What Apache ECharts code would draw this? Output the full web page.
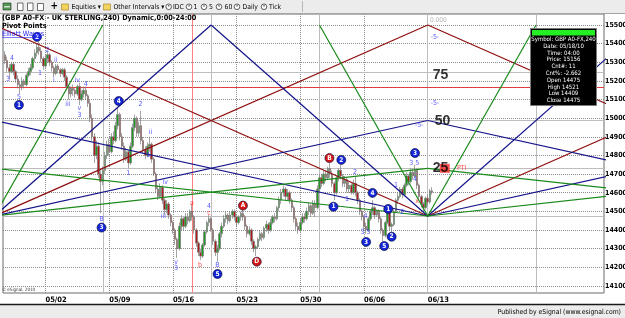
<!DOCTYPE html>
<html>
<head>
<meta charset="utf-8">
<script src="https://cdn.jsdelivr.net/npm/echarts@6/dist/echarts.min.js"></script>
<style>
html, body { margin: 0; padding: 0; background: #fff; }
#main { width: 625px; height: 318px; }
</style>
</head>
<body>
<div id="main"></div>
<script>
// 240 min bars, [open, close, low, high], bar index starts at 1
const candles = [
  [15340,15310,15290,15360],[15310,15270,15250,15330],[15270,15250,15210,15290],[15250,15290,15240,15300],
  [15290,15250,15230,15300],[15250,15210,15190,15260],[15210,15180,15160,15230],[15180,15170,15130,15200],
  [15170,15200,15150,15220],[15200,15180,15160,15210],[15180,15230,15170,15240],[15230,15250,15220,15270],
  [15250,15270,15230,15290],[15270,15320,15260,15330],[15320,15350,15300,15370],[15350,15380,15330,15400],
  [15380,15360,15340,15410],[15360,15320,15300,15380],[15320,15280,15260,15330],[15280,15320,15270,15340],
  [15320,15340,15300,15360],[15340,15300,15280,15350],[15300,15270,15250,15310],[15270,15240,15220,15280],
  [15240,15280,15230,15290],[15280,15260,15240,15290],[15260,15240,15220,15270],[15240,15260,15230,15270],
  [15260,15220,15200,15270],[15220,15170,15150,15230],[15170,15130,15100,15180],[15130,15160,15110,15170],
  [15160,15150,15120,15180],[15150,15130,15110,15160],[15130,15170,15120,15180],[15170,15100,15070,15190],
  [15100,15130,15090,15150],[15130,15150,15110,15170],[15150,15120,15100,15170],[15120,15080,15060,15130],
  [15080,15000,14980,15100],[15000,14900,14880,15020],[14900,14800,14760,14920],[14800,14850,14780,14880],
  [14850,14700,14680,14870],[14700,14660,14490,14720],[14660,14720,14640,14740],[14720,14800,14700,14820],
  [14800,14860,14780,14880],[14860,14820,14800,14890],[14820,14900,14810,14920],[14900,14880,14860,14930],
  [14880,14960,14870,14980],[14960,15020,14940,15055],[15020,14900,14880,15030],[14900,14850,14830,14920],
  [14850,14780,14760,14870],[14780,14820,14770,14840],[14820,14760,14730,14830],[14760,14850,14750,14870],
  [14850,14950,14840,14970],[14950,15000,14930,15020],[15000,14920,14900,15010],[14920,14960,14900,14980],
  [14960,14880,14860,15040],[14880,14830,14810,14900],[14830,14800,14780,14850],[14800,14850,14790,14870],
  [14850,14860,14820,14900],[14860,14780,14760,14870],[14780,14700,14690,14790],[14700,14620,14600,14710],
  [14620,14580,14560,14640],[14580,14630,14570,14650],[14630,14560,14540,14640],[14560,14510,14480,14570],
  [14510,14540,14490,14560],[14540,14480,14460,14550],[14480,14440,14420,14490],[14440,14400,14380,14450],
  [14400,14350,14320,14410],[14350,14300,14250,14360],[14300,14420,14290,14440],[14420,14460,14400,14480],
  [14460,14420,14400,14470],[14420,14470,14410,14490],[14470,14450,14430,14490],[14450,14500,14440,14510],
  [14500,14470,14450,14540],[14470,14400,14380,14480],[14400,14330,14310,14410],[14330,14280,14260,14340],
  [14280,14260,14240,14300],[14260,14320,14250,14330],[14320,14390,14310,14400],[14390,14440,14380,14450],
  [14440,14460,14420,14480],[14460,14400,14390,14470],[14400,14340,14320,14410],[14340,14280,14260,14350],
  [14280,14300,14230,14320],[14300,14380,14290,14390],[14380,14420,14360,14440],[14420,14460,14410,14480],
  [14460,14480,14440,14500],[14480,14450,14430,14490],[14450,14480,14440,14500],[14480,14500,14460,14510],
  [14500,14470,14450,14510],[14470,14440,14420,14480],[14440,14470,14430,14480],[14470,14490,14450,14500],
  [14490,14470,14450,14510],[14470,14420,14400,14480],[14420,14380,14360,14430],[14380,14400,14370,14420],
  [14400,14340,14320,14410],[14340,14300,14280,14350],[14300,14310,14260,14320],[14310,14350,14300,14360],
  [14350,14380,14340,14400],[14380,14360,14340,14390],[14360,14410,14350,14420],[14410,14430,14390,14450],
  [14430,14400,14380,14440],[14400,14440,14390,14460],[14440,14470,14430,14480],[14470,14460,14440,14490],
  [14460,14520,14450,14530],[14520,14560,14500,14580],[14560,14600,14540,14620],[14600,14620,14580,14640],
  [14620,14580,14560,14630],[14580,14600,14560,14620],[14600,14560,14540,14610],[14560,14520,14500,14570],
  [14520,14460,14440,14530],[14460,14420,14400,14470],[14420,14400,14380,14440],[14400,14440,14390,14460],
  [14440,14470,14430,14490],[14470,14460,14440,14490],[14460,14500,14450,14520],[14500,14530,14480,14550],
  [14530,14490,14470,14540],[14490,14540,14480,14560],[14540,14520,14470,14560],[14520,14620,14510,14640],
  [14620,14680,14600,14700],[14680,14650,14630,14700],[14650,14700,14640,14720],[14700,14680,14660,14720],
  [14680,14730,14670,14740],[14730,14700,14680,14760],[14700,14650,14630,14720],[14650,14600,14560,14660],
  [14600,14680,14590,14690],[14680,14720,14660,14730],[14720,14690,14670,14750],[14690,14650,14630,14700],
  [14650,14670,14630,14690],[14670,14620,14600,14680],[14620,14640,14600,14660],[14640,14600,14590,14650],
  [14600,14650,14590,14670],[14650,14600,14580,14690],[14600,14560,14540,14610],[14560,14500,14480,14570],
  [14500,14470,14450,14510],[14470,14420,14400,14480],[14420,14400,14380,14440],[14400,14460,14390,14470],
  [14460,14500,14450,14510],[14500,14520,14480,14560],[14520,14480,14460,14530],[14480,14500,14470,14510],
  [14500,14460,14440,14510],[14460,14400,14380,14470],[14400,14370,14340,14410],[14370,14440,14360,14450],
  [14440,14500,14430,14530],[14500,14420,14400,14510],[14420,14430,14390,14440],[14430,14500,14420,14510],
  [14500,14560,14490,14570],[14560,14580,14540,14600],[14580,14620,14570,14630],[14620,14590,14570,14630],
  [14590,14640,14580,14650],[14640,14690,14630,14710],[14690,14660,14640,14700],[14660,14710,14650,14730],
  [14710,14690,14670,14730],[14690,14720,14680,14750],[14720,14640,14620,14730],[14640,14580,14560,14650],
  [14580,14540,14520,14590],[14540,14520,14500,14550],[14520,14570,14510,14580],[14570,14550,14530,14590],
  [14550,14610,14540,14620],[14610,14602,14590,14630]
];

const weekTicks = [20, 50, 80, 110, 140, 170, 200];
const weekLabels = ['05/02', '05/09', '05/16', '05/23', '05/30', '06/06', '06/13'];
const priceTicks = [14100, 14200, 14300, 14400, 14500, 14600, 14700, 14800, 14900, 15000, 15100, 15200, 15300, 15400, 15500];
const lastPrice = 14602;

// gann box: quarters in price and time
const boxLevels = [14475, 14731, 14987.5, 15244];
const boxCols = [47, 98, 149, 200, 251];
const pivotLevel = 15165;
const markerCol = 89;

const maroonLines = [
  [[-4, 14475], [200, 15500]], [[200, 14475], [-4, 15500]],
  [[200, 14475], [404, 15500]], [[200, 15500], [404, 14475]]
];
const blueLines = [
  [[-4, 14475], [98, 15500]], [[200, 14475], [98, 15500]], [[200, 14475], [302, 15500]],
  [[-4, 14475], [200, 14987.5]], [[200, 14475], [-4, 14987.5]],
  [[200, 14475], [404, 14987.5]], [[200, 14987.5], [404, 14475]]
];
const greenLines = [
  [[-4, 14475], [47, 15500]], [[200, 14475], [149, 15500]], [[200, 14475], [251, 15500]],
  [[-4, 14475], [200, 14731]], [[200, 14475], [-4, 14731]],
  [[200, 14475], [404, 14731]], [[200, 14731], [404, 14475]]
];

// elliott wave marks [bar, price, text]
const blueCircles = [
  [7.5, 15071, '1'], [16, 15436, '2'], [46.4, 14413, '3'], [54.5, 15092, '4'], [101, 14164, '5'],
  [159.3, 14776, '2'], [155.6, 14525, '1'], [174, 14599, '4'], [171, 14336, '3'], [181.4, 14513, '1'],
  [179.5, 14314, '5'], [183, 14364, '2'], [194, 14813, '3']
];
const redCircles = [[113, 14531, 'A'], [119.5, 14230, 'D'], [153.7, 14786, 'B']];
const blueTexts = [
  [2.3, 15210, '3'], [4.2, 15323, '4'], [7.5, 15114, '5'], [17.4, 15242, '1'], [21, 15366, '2'],
  [24.8, 15312, 'ii'], [24, 15205, 'i'], [30.5, 15076, 'iii'], [35, 15205, 'iv'], [39, 15183, '4'],
  [36, 15055, 'v'], [36, 15017, '3'], [46.4, 14459, 'B'], [64.7, 15076, '2'], [69.4, 14926, 'ii'],
  [68.4, 14803, '1'], [59, 14706, '1'], [76.4, 14658, 'iv'], [75.5, 14475, 'iii'], [81.5, 14229, 'v'],
  [81.5, 14196, '3'], [97, 14529, '4'], [101, 14212, 'B'], [162, 14566, '1'], [165.7, 14711, '2'],
  [170.7, 14475, '4'], [170.7, 14390, '3 5'], [185, 14642, '1'], [188, 14497, '2'], [193.6, 14760, '3 5'],
  [194, 14674, '4'], [203.4, 15436, '-5-'], [203.4, 15082, '-5-'], [196, 14963, '-5-']
];
const redTexts = [[89, 14545, 'a'], [92.8, 14212, 'b'], [97, 14491, 'c'], [195, 14552, 'x']];
const levelTexts = [[206, 15232, '75'], [207, 14985, '50'], [206, 14733, '25']];

const F = "'Liberation Sans Narrow', 'DejaVu Sans Condensed', 'Liberation Sans', sans-serif";

function txt (x, y, text, o = {}) {
  return {
    type: 'text', x: x, y: y, silent: true, z: 100,
    style: {
      text: text, fill: o.fill || '#000',
      font: (o.bold ? 'bold ' : '') + (o.size || 7) + 'px ' + F,
      textAlign: o.align || 'left', align: o.align || 'left',
      textVerticalAlign: 'middle', verticalAlign: 'middle'
    }
  };
}

// grid lines, level lines, price labels
const markData = [];
priceTicks.forEach(v => markData.push({
  yAxis: v,
  lineStyle: { type: 'dotted', color: '#8c8c8c', width: 1 },
  label: { show: true, position: 'end', distance: 1, formatter: String(v), color: '#000', fontSize: 7, fontWeight: 'bold', fontFamily: F }
}));
weekTicks.forEach(v => markData.push({ xAxis: v, lineStyle: { type: 'dotted', color: '#8c8c8c', width: 1 }, label: { show: false } }));
boxLevels.forEach(v => markData.push({ yAxis: v, lineStyle: { type: 'solid', color: '#bdbdbd', width: 1 }, label: { show: false } }));
boxCols.forEach(v => markData.push({ xAxis: v, lineStyle: { type: 'solid', color: '#bdbdbd', width: 1 }, label: { show: false } }));
markData.push({ yAxis: pivotLevel, lineStyle: { type: 'solid', color: '#e23b3b', width: 1 }, label: { show: false } });
markData.push({ xAxis: markerCol, lineStyle: { type: 'solid', color: '#ff8080', width: 1 }, label: { show: false } });
markData.push({
  yAxis: lastPrice,
  lineStyle: { opacity: 0 },
  label: { show: true, position: 'end', distance: 0, formatter: String(lastPrice), color: '#000', fontSize: 7, fontWeight: 'bold', fontFamily: F, backgroundColor: '#3cff3c', padding: [1, 1] }
});

const series = [];
series.push({
  type: 'line', data: [], silent: true,
  markLine: { silent: true, symbol: ['none', 'none'], z: 1, animation: false, data: markData }
});
series.push({
  type: 'candlestick', z: 3, silent: true,
  data: candles.map((c, i) => [i + 1, c[0], c[1], c[2], c[3]]),
  encode: { x: 0, y: [1, 2, 3, 4] },
  barWidth: 2,
  itemStyle: { color: '#1f9a1f', color0: '#b01c1c', borderColor: '#7d7d7d', borderColor0: '#7d7d7d', borderWidth: 0.7 }
});

function addLines (segs, color) {
  segs.forEach(s => series.push({
    type: 'line', data: s, symbol: 'none', silent: true, clip: true, z: 4,
    lineStyle: { color: color, width: 1.2 }
  }));
}
addLines(maroonLines, '#8e0f0f');
addLines(blueLines, '#14148a');
addLines(greenLines, '#1a8a1a');

function textSeries (rows, color, size, bold, z) {
  return {
    type: 'scatter', silent: true, z: z || 6, symbolSize: 1,
    data: rows.map(r => [r[0], r[1], r[2]]),
    itemStyle: { color: 'rgba(0,0,0,0)' },
    label: { show: true, position: 'inside', formatter: p => p.value[2], color: color, fontSize: size, fontWeight: bold ? 'bold' : 'normal', fontFamily: F }
  };
}
function circleSeries (rows, fill) {
  return {
    type: 'scatter', silent: true, z: 6, symbol: 'circle', symbolSize: 9,
    data: rows.map(r => [r[0], r[1], r[2]]),
    itemStyle: { color: fill, borderColor: '#000030', borderWidth: 0.6, opacity: 1 },
    label: { show: true, position: 'inside', formatter: p => p.value[2], color: '#fff', fontSize: 6.5, fontWeight: 'bold', fontFamily: F }
  };
}
series.push(circleSeries(blueCircles, '#1426d6'));
series.push(circleSeries(redCircles, '#d61414'));
series.push(textSeries(blueTexts, '#2a2aff', 7, false));
series.push(textSeries(redTexts, '#ff2020', 7, false));
series.push({
  type: 'scatter', silent: true, z: 6, symbol: 'rect', symbolSize: [10, 9],
  data: [[208, 14731]], itemStyle: { color: '#ff2a2a' }
});
series.push(textSeries([[216, 14731, 'PTI']], '#ff2020', 7, false));
series.push(textSeries([[205, 15525, '0.000']], '#a0a0a0', 6.5, false));
series.push({
  type: 'scatter', silent: true, z: 7, symbolSize: 1,
  data: levelTexts.map(r => [r[0], r[1], r[2]]),
  itemStyle: { color: 'rgba(0,0,0,0)' },
  label: { show: true, position: 'inside', formatter: p => p.value[2], color: '#000', fontSize: 14, fontWeight: 'bold', fontFamily: "'Liberation Sans', Arial, sans-serif" }
});

// toolbar, banner, legend texts, data window
const graphics = [
  { type: 'rect', shape: { x: 0, y: 0, width: 625, height: 13 }, style: { fill: '#ececec' }, silent: true, z: 99 },
  { type: 'line', shape: { x1: 0, y1: 13.5, x2: 625, y2: 13.5 }, style: { stroke: '#a5a5a5', lineWidth: 1 }, silent: true, z: 99 },
  { type: 'line', shape: { x1: 302.5, y1: 1, x2: 302.5, y2: 12 }, style: { stroke: '#b5b5b5', lineWidth: 1 }, silent: true, z: 99 },
  { type: 'rect', shape: { x: 3, y: 3, width: 8, height: 7 }, style: { fill: '#4f9a4f', stroke: '#2a2a2a', lineWidth: 0.6 }, silent: true, z: 100 },
  { type: 'rect', shape: { x: 4, y: 6, width: 6, height: 1.5 }, style: { fill: '#d8d8d8' }, silent: true, z: 101 },
  { type: 'rect', shape: { x: 17.5, y: 3, width: 5.5, height: 7.5 }, style: { fill: '#fff', stroke: '#333', lineWidth: 0.7 }, silent: true, z: 100 },
  { type: 'rect', shape: { x: 27.5, y: 3, width: 5.5, height: 7.5 }, style: { fill: '#fff', stroke: '#333', lineWidth: 0.7 }, silent: true, z: 100 },
  { type: 'rect', shape: { x: 37.5, y: 3.5, width: 6, height: 7 }, style: { fill: '#fff', stroke: '#333', lineWidth: 0.7 }, silent: true, z: 100 },
  txt(50.5, 6.8, '+', { bold: true, size: 10 }),
  { type: 'rect', shape: { x: 61.5, y: 4, width: 7, height: 6 }, style: { fill: '#f2d35e', stroke: '#9c7c1c', lineWidth: 0.6 }, silent: true, z: 100 },
  txt(71.5, 7, 'Equities ▾', { size: 6.8 }),
  { type: 'rect', shape: { x: 103.5, y: 4, width: 7, height: 6 }, style: { fill: '#f2d35e', stroke: '#9c7c1c', lineWidth: 0.6 }, silent: true, z: 100 },
  txt(113.5, 7, 'Other Intervals ▾', { size: 6.8 })
];
[[168.7, 'IDC', 173], [189, '1', 193.5], [204, '5', 209], [219, '60', 224.5], [237, 'Daily', 242.5], [264, 'Tick', 269]].forEach(b => {
  graphics.push({ type: 'circle', shape: { cx: b[0], cy: 6.8, r: 2.8 }, style: { fill: '#fafafa', stroke: '#222', lineWidth: 0.7 }, silent: true, z: 100 });
  graphics.push(txt(b[0] - 1, 6.9, '·', { size: 6, bold: true }));
  graphics.push(txt(b[2], 7, b[1], { size: 6.8 }));
});
graphics.push(
  txt(2, 18, '(GBP A0-FX - UK STERLING,240) Dynamic,0:00-24:00', { bold: true, size: 7.3 }),
  txt(2, 26, 'Pivot Points', { bold: true, size: 7.3 }),
  txt(2, 34, 'Elliott Waves', { size: 7.3, fill: '#2424ff' }),
  { type: 'line', shape: { x1: 2, y1: 37.5, x2: 42, y2: 37.5 }, style: { stroke: '#2424ff', lineWidth: 0.6 }, silent: true, z: 100 },
  txt(2, 289.5, '© eSignal, 2010', { size: 4.5, fill: '#333' }),
  { type: 'rect', shape: { x: 0, y: 304, width: 625, height: 14 }, style: { fill: '#ececec' }, silent: true, z: 99 },
  { type: 'line', shape: { x1: 0, y1: 304.5, x2: 625, y2: 304.5 }, style: { stroke: '#1a1a1a', lineWidth: 1.5 }, silent: true, z: 100 },
  txt(621, 312, 'Published by eSignal (www.esignal.com)', { size: 6.8, align: 'right' })
);
// data window
const dataWin = ['Symbol: GBP A0-FX,240', 'Date: 05/18/10', 'Time: 04:00', 'Price: 15156', 'Cnt#: 11',
  'Cnt%: -2.662', 'Open 14475', 'High 14521', 'Low 14409', 'Close 14475'];
graphics.push(
  { type: 'rect', shape: { x: 530.5, y: 28.5, width: 66, height: 77 }, style: { fill: '#000', stroke: '#7a7a7a', lineWidth: 1 }, silent: true, z: 100 },
  { type: 'rect', shape: { x: 532, y: 30, width: 63, height: 5.5 }, style: { fill: '#25ee25' }, silent: true, z: 101 },
  txt(563.5, 32.8, 'OK', { size: 5.5, fill: '#0a3a0a', align: 'center' })
);
dataWin.forEach((s, i) => graphics.push(Object.assign(txt(563.5, 39.5 + i * 6.8, s, { size: 6, fill: '#fff', align: 'center' }), { z: 102 })));

const chart = echarts.init(document.getElementById('main'), null, { renderer: 'canvas' });
chart.setOption({
  animation: false,
  backgroundColor: '#fff',
  grid: { left: 0, right: 21, top: 14, bottom: 25, show: true, borderColor: '#6a6a6a', borderWidth: 1, backgroundColor: '#fff' },
  xAxis: {
    type: 'value', min: 0, max: 283, interval: 10,
    axisLine: { show: false }, axisTick: { show: false }, splitLine: { show: false },
    axisLabel: {
      margin: 3, align: 'left', color: '#000', fontSize: 7.5, fontWeight: 'bold', fontFamily: F,
      formatter: v => { const i = weekTicks.indexOf(v); return i >= 0 ? weekLabels[i] : ''; }
    }
  },
  yAxis: {
    type: 'value', position: 'right', min: 14062, max: 15559, scale: true,
    axisLine: { show: false }, axisTick: { show: false }, splitLine: { show: false }, axisLabel: { show: false }
  },
  series: series,
  graphic: { elements: graphics }
});
</script>
</body>
</html>
